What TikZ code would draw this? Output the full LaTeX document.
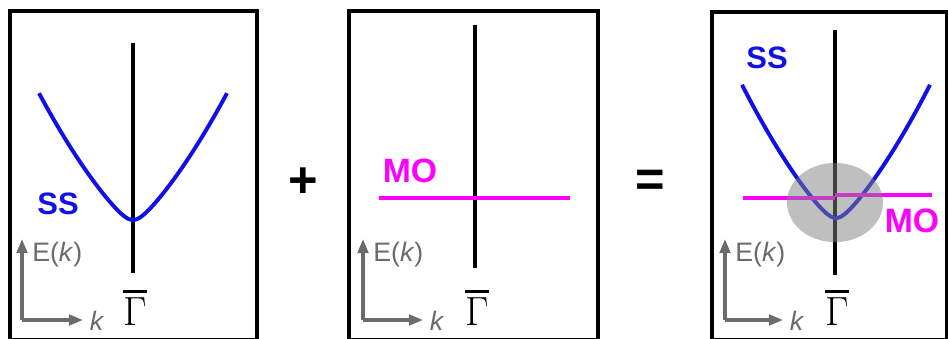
\documentclass[tikz,border=0pt]{standalone}
\usepackage{fontspec}
\setmainfont{Liberation Sans}
\usepackage{xcolor}
\usetikzlibrary{arrows.meta, shapes.geometric}
\definecolor{ssblue}{HTML}{1010E8}
\definecolor{momag}{HTML}{FF00FF}
\definecolor{axisgray}{HTML}{6B6B6B}
% Gamma with a heavy bar on top
\newcommand{\gammabar}{%
  \setbox0\hbox{\usefont{TU}{lmr}{m}{n}Γ}%
  \vbox{\hrule height 2.2pt width \wd0 \kern 3.2pt \box0}}
\tikzset{
  panel/.style={draw=black, line width=2.4pt},
  gamma line/.style={draw=black, line width=3.3pt},
  ss curve/.style={draw=ssblue, line width=2.8pt, line join=round},
  mo line/.style={draw=momag, line width=3.4pt},
  axis arrow/.style={
    -{Triangle[length=10pt, width=7.5pt]},
    draw=axisgray, line width=2.2pt
  },
  axis label/.style={text=axisgray, font=\fontsize{19}{19}\selectfont, inner sep=0pt},
  gamma label/.style={font=\fontsize{29}{29}\selectfont, inner sep=0pt},
  ss label/.style={text=ssblue, font=\fontsize{22}{22}\selectfont\bfseries, inner sep=0pt},
  mo label/.style={text=momag, font=\fontsize{24}{24}\selectfont\bfseries, inner sep=0pt},
  op sign/.style={font=\fontsize{36}{36}\selectfont\bfseries, inner sep=0pt},
  overlap/.style={ellipse, fill=gray, opacity=0.5, minimum width=2.4cm, minimum height=1.98cm}
}

\begin{document}
\begin{tikzpicture}[x=0.025cm, y=-0.025cm]
  \useasboundingbox (0,0) rectangle (948,338);
  \clip (0,0) rectangle (948,338);

  % Panel 1: surface state
  \draw[panel] (10,11) rectangle (257,340);
  \coordinate (g1top) at (133,43);
  \coordinate (g1bot) at (133,273);
  \draw[gamma line] (g1top) -- (g1bot);
  \draw[ss curve] plot[domain=-94:94, samples=81]
    ({133+\x}, {220-1.044*(sqrt(\x*\x+100)-10)-0.00437*\x*\x});
  \node[ss label] (ss1) at (58,204) {SS};
  \node[gamma label] (gam1) at (135,308) {\gammabar};
  \coordinate (o1) at (22,320);
  \coordinate (e1) at (22,239);
  \coordinate (k1) at (83,320);
  \draw[axis arrow] (o1) -- (e1);
  \draw[axis arrow] (o1) -- (k1);
  \node[axis label, anchor=west] (el1) at (32,255) {E(\textit{k})};
  \node[axis label] (kl1) at (97,321) {\textit{k}};

  % plus
  \node[op sign] (plus) at (303,183) {+};

  % Panel 2: molecular orbital
  \draw[panel] (349,11) rectangle (598,340);
  \coordinate (g2top) at (475,25);
  \coordinate (g2bot) at (475,268);
  \draw[gamma line] (g2top) -- (g2bot);
  \coordinate (mo2l) at (379,198);
  \coordinate (mo2r) at (570,198);
  \draw[mo line] (mo2l) -- (mo2r);
  \node[mo label] (mo2) at (410,171) {MO};
  \node[gamma label] (gam2) at (477,308) {\gammabar};
  \coordinate (o2) at (363,320);
  \coordinate (e2) at (363,239);
  \coordinate (k2) at (423,320);
  \draw[axis arrow] (o2) -- (e2);
  \draw[axis arrow] (o2) -- (k2);
  \node[axis label, anchor=west] (el2) at (373,255) {E(\textit{k})};
  \node[axis label] (kl2) at (437,321) {\textit{k}};

  % equals
  \node[op sign] (equals) at (650,183) {=};

  % Panel 3: hybrid
  \draw[panel] (712,12) rectangle (947,340);
  \coordinate (g3top) at (835,30);
  \coordinate (g3bot) at (835,275);
  \draw[gamma line] (g3top) -- (g3bot);
  \draw[ss curve] plot[domain=-94:94, samples=81]
    ({836+\x}, {218-1.05*(1.044*(sqrt(\x*\x+100)-10)+0.00437*\x*\x)});
  \coordinate (mo3l) at (743,198);
  \coordinate (mo3m) at (835,198);
  \coordinate (mo3n) at (835,195);
  \coordinate (mo3r) at (932,195);
  \draw[mo line] (mo3l) -- (mo3m);
  \draw[mo line] (mo3n) -- (mo3r);
  \node[overlap] (hyb) at (835,202.5) {};
  \node[ss label] (ss3) at (767,58) {SS};
  \node[mo label] (mo3) at (912,221) {MO};
  \node[gamma label] (gam3) at (837,308) {\gammabar};
  \coordinate (o3) at (725,320);
  \coordinate (e3) at (725,239);
  \coordinate (k3) at (783,320);
  \draw[axis arrow] (o3) -- (e3);
  \draw[axis arrow] (o3) -- (k3);
  \node[axis label, anchor=west] (el3) at (735,255) {E(\textit{k})};
  \node[axis label] (kl3) at (797,321) {\textit{k}};
\end{tikzpicture}
\end{document}
